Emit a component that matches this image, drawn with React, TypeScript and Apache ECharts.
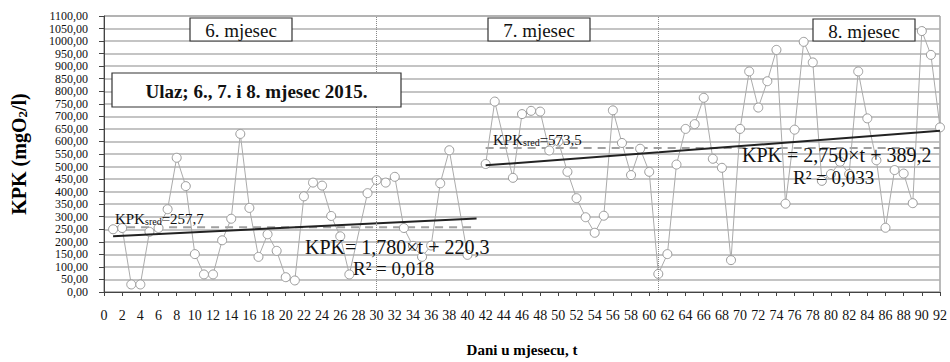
import React, { useEffect, useRef } from "react";
import * as echarts from "echarts";

// Month 6 + start of 7 (series 1)
const days1 = [1, 2, 3, 4, 5, 6, 7, 8, 9, 10, 11, 12, 13, 14, 15, 16, 17, 18, 19, 20, 21, 22, 23, 24, 25, 26, 27, 29, 30, 31, 32, 33, 34, 35, 36, 37, 38, 40];
const kpk1 = [250, 255, 30, 30, 240, 255, 330, 535, 422, 151, 70, 70, 206, 292, 630, 335, 140, 230, 164, 59, 46, 381, 436, 424, 303, 222, 70, 394, 446, 436, 459, 255, 184, 140, 185, 433, 565, 148];

// Rest of months 7 and 8 (series 2)
const days2 = [42, 43, 45, 46, 47, 48, 49, 50, 51, 52, 53, 54, 55, 56, 57, 58, 59, 60, 61, 62, 63, 64, 65, 66, 67, 68, 69, 70, 71, 72, 73, 74, 75, 76, 77, 78, 79, 80, 81, 82, 83, 84, 85, 86, 87, 88, 89, 90, 91, 92];
const kpk2 = [510, 759, 455, 709, 722, 719, 564, 600, 479, 374, 298, 236, 304, 724, 594, 466, 571, 479, 72, 151, 508, 650, 669, 774, 531, 495, 127, 650, 879, 735, 840, 965, 352, 647, 997, 915, 443, 470, 519, 470, 879, 692, 525, 256, 486, 472, 354, 1040, 945, 656];

// Mean values and linear trends (slope, intercept, t range)
const avgValues = [257.7, 573.5];
const trendSlopes = [1.78, 2.75];
const trendIntercepts = [220.3, 389.2];
const trendRanges = [[1, 41], [42, 92]];
const monthBorders = [30, 61];

const monthLabels = ["6. mjesec", "7. mjesec", "8. mjesec"];
const titleLabel = "Ulaz; 6., 7. i 8. mjesec 2015.";
const avgLabels = ["257,7", "573,5"];
const trendLabels = ["KPK= 1,780×t + 220,3", "KPK = 2,750×t + 389,2"];
const r2Labels = ["R² = 0,018", "R² = 0,033"];

const FONT = '"Liberation Serif", "Times New Roman", serif';

export default function App() {
  const ref = useRef<HTMLDivElement>(null);
  useEffect(() => {
    if (!ref.current) return;
    const chart = echarts.init(ref.current, undefined, { renderer: "svg" });

    const box = (text: string, x: number, y: number, w: number, h: number, size: number, bold = false) => ({
      type: "group",
      z: 100,
      children: [
        { type: "rect", z: 100, shape: { x, y, width: w, height: h }, style: { fill: "#fff", stroke: "#333", lineWidth: 1.2 } },
        {
          type: "text",
          z: 101,
          x: x + w / 2,
          y: y + h / 2 + 1,
          style: {
            text,
            fontFamily: FONT,
            fontSize: size,
            fontWeight: bold ? "bold" : "normal",
            fill: "#111",
            align: "center",
            verticalAlign: "middle",
          },
        },
      ],
    });

    const plainText = (text: string, x: number, y: number, size: number) => ({
      type: "text",
      z: 100,
      x,
      y,
      style: { text, fontFamily: FONT, fontSize: size, fill: "#111", align: "left", verticalAlign: "middle" },
    });

    const avgText = (val: string, x: number, y: number) => ({
      type: "text",
      z: 100,
      x,
      y,
      style: {
        text: `{a|KPK}{b|sred}{a|=${val}}`,
        align: "left",
        verticalAlign: "middle",
        rich: {
          a: { fontFamily: FONT, fontSize: 15, fill: "#111", color: "#111" },
          b: { fontFamily: FONT, fontSize: 10, fill: "#111", color: "#111", verticalAlign: "bottom" },
        },
      },
    });

    const dataStyle = {
      type: "line",
      symbol: "circle",
      symbolSize: 9,
      z: 2,
      lineStyle: { color: "#ababab", width: 1 },
      itemStyle: { color: "#fff", borderColor: "#9a9a9a", borderWidth: 1 },
    };

    const series: any[] = [
      {
        ...dataStyle,
        data: days1.map((d, i) => [d, kpk1[i]]),
        markLine: {
          silent: true,
          symbol: ["none", "none"],
          label: { show: false },
          lineStyle: { color: "#888", type: "dotted", width: 1 },
          data: monthBorders.map((m) => ({ xAxis: m })),
        },
      },
      { ...dataStyle, data: days2.map((d, i) => [d, kpk2[i]]) },
    ];
    avgValues.forEach((a, i) => {
      series.push({
        type: "line",
        symbol: "none",
        z: 1,
        lineStyle: { color: "#a0a0a0", width: 2, type: [8, 6] },
        data: trendRanges[i].map((t) => [t, a]),
      });
    });
    trendSlopes.forEach((s, i) => {
      series.push({
        type: "line",
        symbol: "none",
        z: 3,
        lineStyle: { color: "#222", width: 2 },
        data: trendRanges[i].map((t) => [t, s * t + trendIntercepts[i]]),
      });
    });

    chart.setOption({
      animation: false,
      grid: { left: 104, right: 10, top: 16, bottom: 67, show: true, borderColor: "#777", borderWidth: 1, backgroundColor: "transparent" },
      xAxis: {
        type: "value",
        min: 0,
        max: 92,
        interval: 2,
        name: "Dani u mjesecu, t",
        nameLocation: "middle",
        nameGap: 50,
        nameTextStyle: { fontFamily: FONT, fontSize: 15, fontWeight: "bold", color: "#000" },
        axisLine: { lineStyle: { color: "#444" } },
        axisTick: { show: true, length: 4, lineStyle: { color: "#444" } },
        axisLabel: { fontFamily: FONT, fontSize: 14, color: "#111", margin: 16, showMinLabel: true, showMaxLabel: true },
        splitLine: { show: false },
      },
      yAxis: {
        type: "value",
        min: 0,
        max: 1100,
        interval: 50,
        name: "{a|KPK (mgO}{b|2}{a|/l)}",
        nameLocation: "middle",
        nameGap: 75,
        nameTextStyle: {
          rich: {
            a: { fontFamily: FONT, fontSize: 20, fontWeight: "bold", color: "#000" },
            b: { fontFamily: FONT, fontSize: 13, fontWeight: "bold", color: "#000", verticalAlign: "bottom" },
          },
        },
        axisLine: { show: true, lineStyle: { color: "#444" } },
        axisTick: { show: true, length: 5, lineStyle: { color: "#444" } },
        axisLabel: {
          fontFamily: FONT,
          fontSize: 12,
          lineHeight: 12,
          color: "#111",
          margin: 16,
          showMinLabel: true,
          showMaxLabel: true,
          hideOverlap: false,
          formatter: (v: number) => v.toFixed(2).replace(".", ","),
        },
        splitLine: { show: true, lineStyle: { color: "#b0b0b0", width: 1.5 } },
      },
      series,
      graphic: [
        box(monthLabels[0], 190, 18, 102, 23, 19),
        box(monthLabels[1], 488, 18, 102, 23, 19),
        box(monthLabels[2], 813, 19, 102, 22, 19),
        box(titleLabel, 112, 73, 289, 34, 19, true),
        avgText(avgLabels[0], 115, 219),
        avgText(avgLabels[1], 493, 140),
        plainText(trendLabels[0], 305, 247, 20),
        plainText(r2Labels[0], 353, 268, 19),
        plainText(trendLabels[1], 742, 155, 20),
        plainText(r2Labels[1], 793, 177, 19),
      ],
    });
    return () => chart.dispose();
  }, []);
  return <div ref={ref} style={{ width: 950, height: 362, position: "absolute", left: 0, top: 0 }} />;
}
